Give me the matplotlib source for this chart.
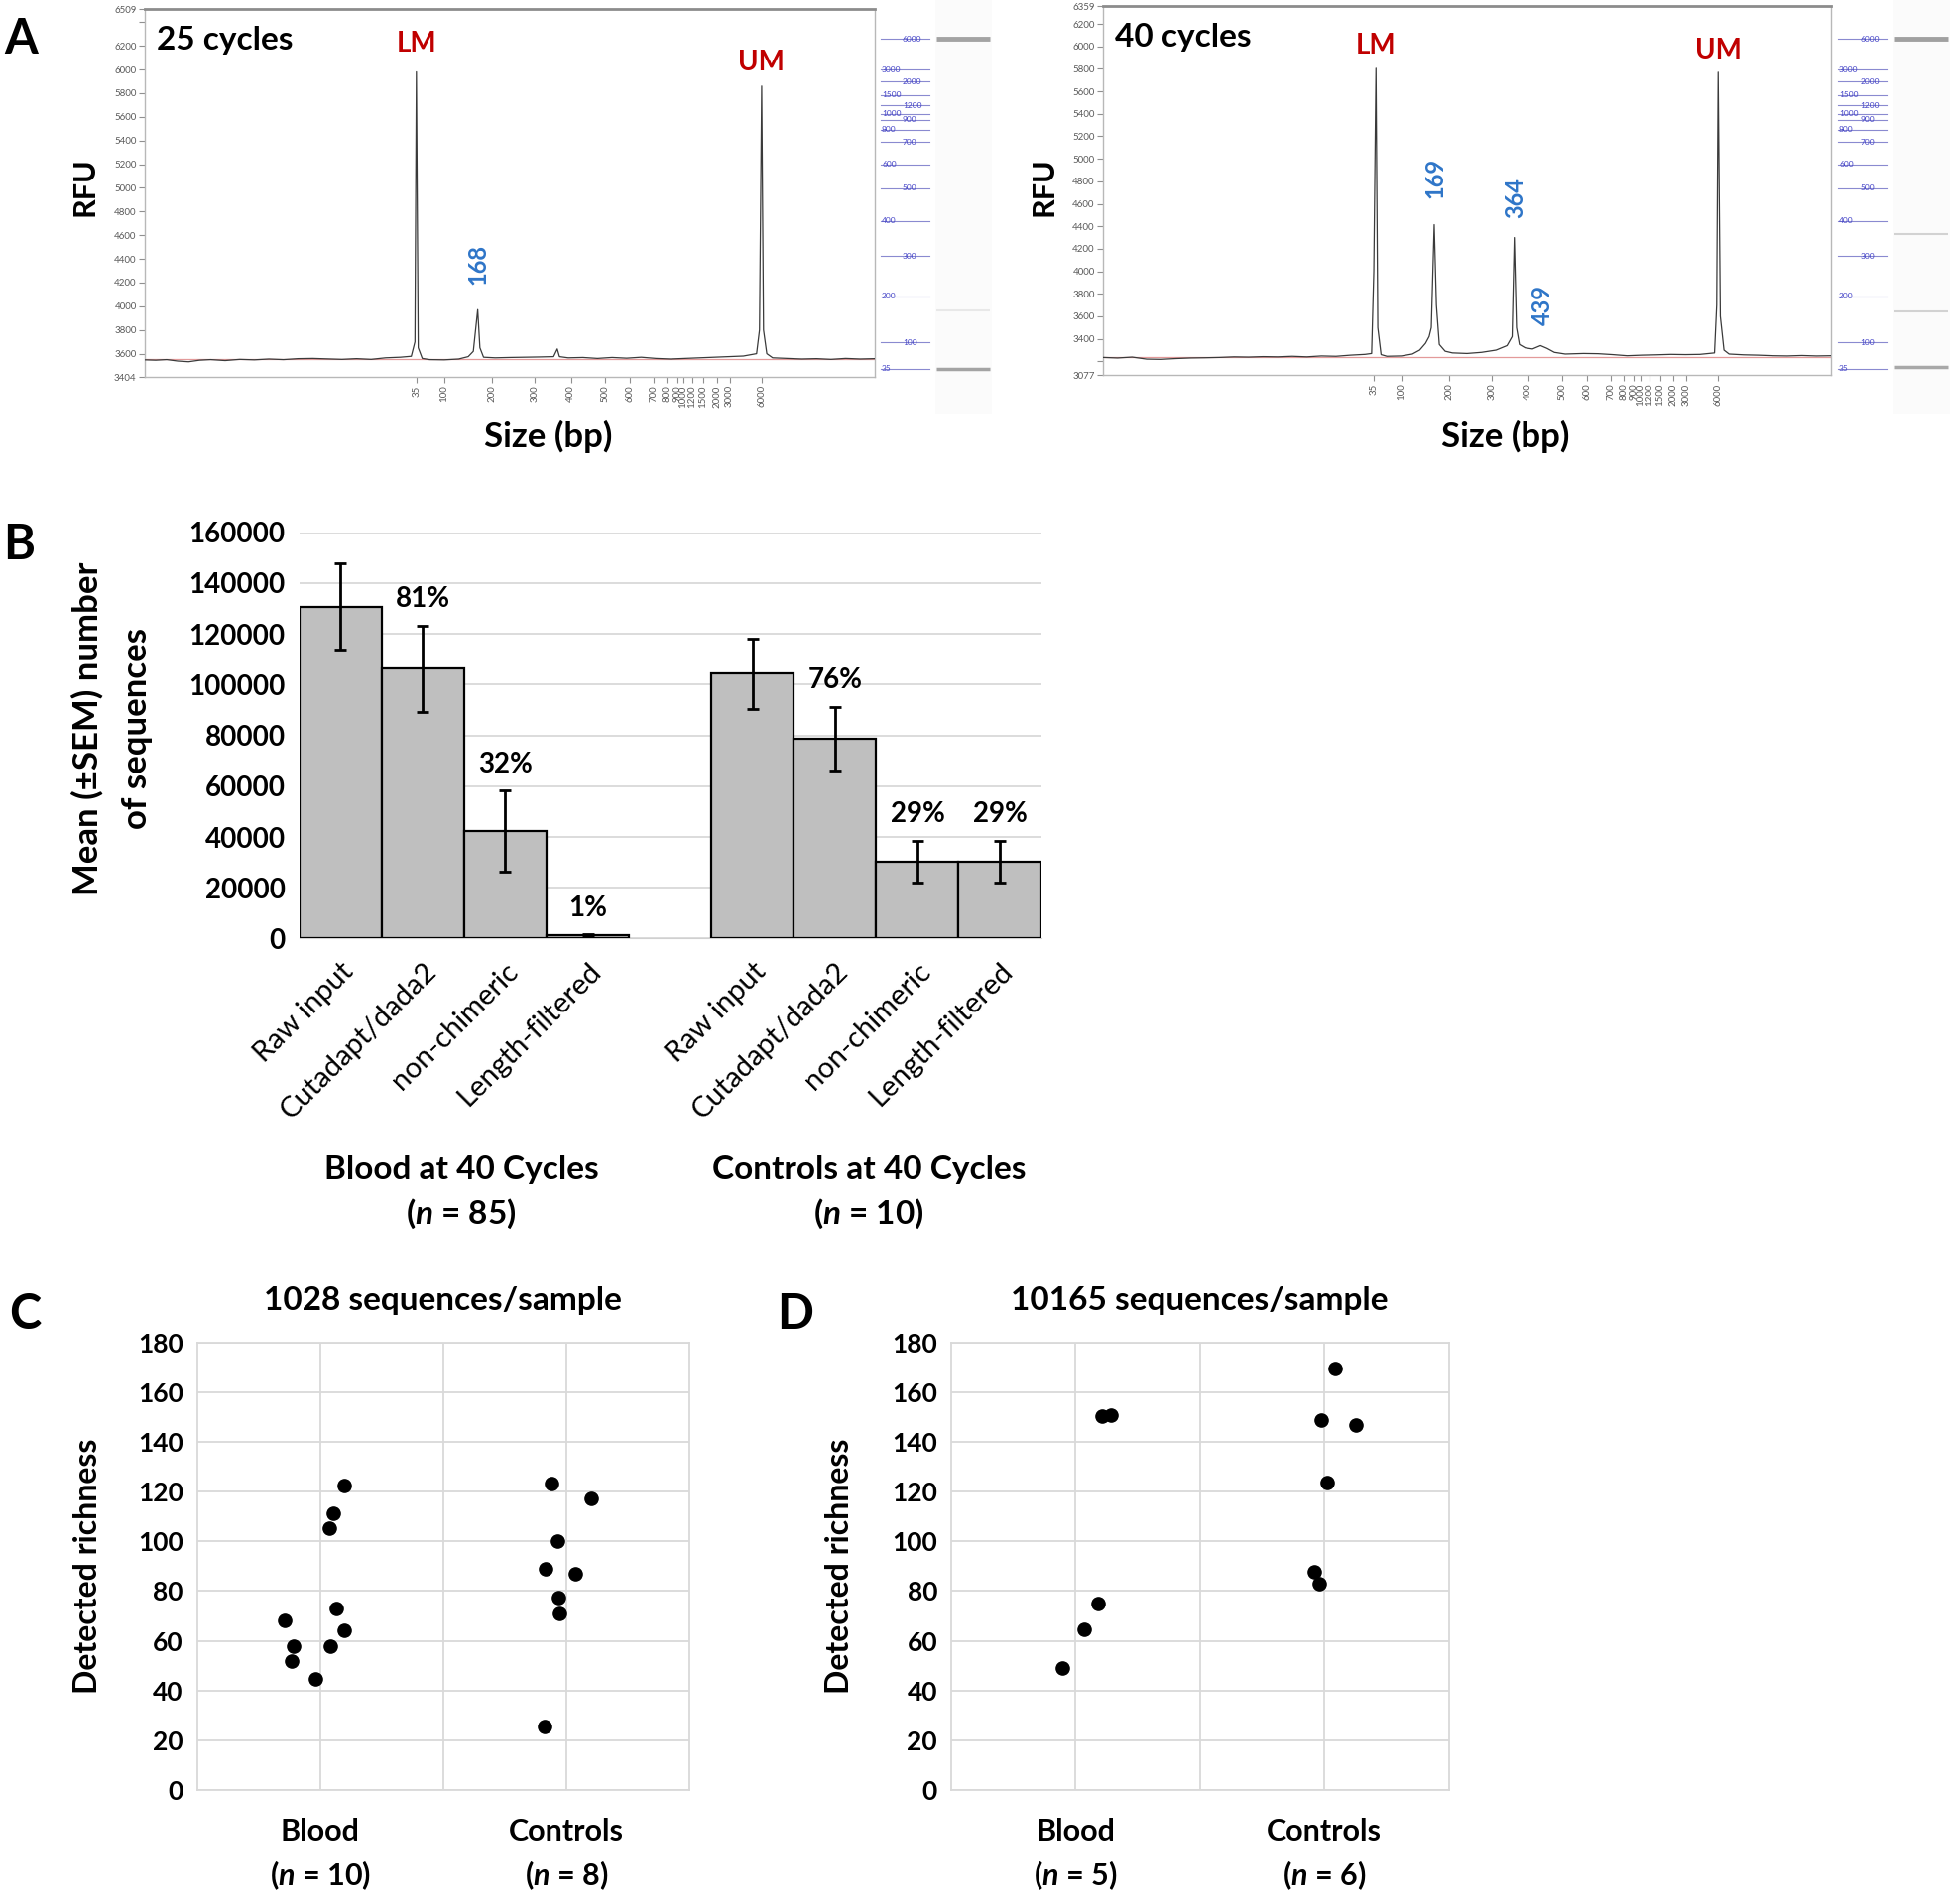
import matplotlib
matplotlib.use('Agg')
import matplotlib.pyplot as plt
from matplotlib.patches import Rectangle
import numpy as np

plt.rcParams['font.family'] = ['Lato', 'DejaVu Sans']
plt.rcParams['mathtext.fontset'] = 'custom'
plt.rcParams['mathtext.rm'] = 'Lato:bold'
plt.rcParams['mathtext.it'] = 'Lato:italic:bold'
plt.rcParams['mathtext.bf'] = 'Lato:bold'

# ---------------- data ----------------
# size ladder (bp) and its migration position (arbitrary time units, 0-100)
ladder_bp = [35, 100, 200, 300, 400, 500, 600, 700, 800, 900, 1000, 1200, 1500, 2000, 3000, 6000]
ladder_mig = [37.2, 41.0, 47.6, 53.4, 58.4, 63.1, 66.5, 69.7, 71.5, 72.9, 73.8, 75.0, 76.5, 78.4, 80.1, 84.5]

# 25-cycle electropherogram trace (migration, RFU)
trace25_mig = [0, 1.5, 3, 4.5, 6, 7.5, 9, 11, 13, 15, 17, 19, 21, 23, 25, 27, 29, 31, 33, 35, 36.5,
               37.0, 37.2, 37.45, 38, 39, 41, 43, 44.3, 45.0, 45.6, 45.9, 46.4, 48, 50, 52, 54, 56,
               56.5, 56.8, 58, 60, 62, 64, 66, 68, 70, 72, 74, 76, 78, 80, 82, 83.8, 84.2, 84.5,
               84.75, 85.2, 86, 88, 90, 92, 94, 96, 98, 100]
trace25_rfu = [3548, 3545, 3550, 3538, 3532, 3545, 3550, 3542, 3552, 3548, 3555, 3550, 3558, 3560, 3556,
               3552, 3558, 3552, 3565, 3570, 3578, 3700, 5980, 3650, 3560, 3550, 3548, 3555, 3575, 3620,
               3972, 3650, 3570, 3565, 3568, 3570, 3572, 3575, 3640, 3575, 3565, 3568, 3560, 3568, 3562,
               3570, 3560, 3555, 3560, 3565, 3570, 3575, 3580, 3600, 3800, 5860, 3800, 3600, 3565, 3560,
               3555, 3558, 3552, 3560, 3555, 3558]
base25 = 3555
peaks25_mig = [37.2, 45.6, 84.5]

# 40-cycle electropherogram trace (migration, RFU)
trace40_mig = [0, 2, 4, 6, 8, 10, 12, 14, 16, 18, 20, 22, 24, 26, 28, 30, 32, 34, 36, 36.9, 37.2,
               37.5, 37.75, 38.2, 39, 41, 42.5, 43.5, 44.3, 44.8, 45.1, 45.5, 45.8, 46.2, 47, 48, 50,
               52, 54, 55.5, 56.2, 56.5, 56.8, 57.2, 58, 59, 60.1, 61, 62, 63.5, 66, 68, 70, 72, 74,
               76, 78, 80, 82, 84, 84.3, 84.5, 84.8, 85.3, 86, 88, 90, 92, 94, 96, 98, 100]
trace40_rfu = [3235, 3230, 3238, 3220, 3218, 3225, 3230, 3232, 3235, 3240, 3238, 3242, 3240, 3245, 3240,
               3248, 3245, 3255, 3262, 3270, 4000, 5805, 3500, 3260, 3245, 3248, 3265, 3300, 3360, 3420,
               3500, 4415, 3700, 3350, 3290, 3275, 3270, 3280, 3300, 3340, 3420, 4300, 3500, 3350, 3320,
               3310, 3340, 3315, 3280, 3265, 3270, 3268, 3260, 3250, 3255, 3258, 3262, 3260, 3262, 3275,
               3700, 5770, 3600, 3300, 3265, 3258, 3255, 3250, 3248, 3252, 3248, 3250]
base40 = 3240
peaks40_mig = [37.5, 45.5, 56.5, 84.5]

# Panel B: mean (+-SEM) number of sequences
steps = ['Raw input', 'Cutadapt/dada2', 'non-chimeric', 'Length-filtered']
blood_mean = [130700, 106200, 42300, 1300]
blood_sem = [17000, 17000, 15900, 300]
blood_pct = ['', '81%', '32%', '1%']
ctrl_mean = [104300, 78800, 30200, 30200]
ctrl_sem = [14000, 12500, 8200, 8200]
ctrl_pct = ['', '76%', '29%', '29%']

# Panel C: 1028 sequences/sample
c_blood_x = [0.856, 0.892, 0.886, 0.983, 1.043, 1.066, 1.098, 1.037, 1.055, 1.098]
c_blood_y = [68.3, 57.7, 51.7, 44.7, 57.7, 72.9, 64.1, 105.3, 111.2, 122.3]
c_ctrl_x = [1.939, 2.102, 1.963, 1.917, 2.036, 1.968, 1.973, 1.910]
c_ctrl_y = [123.1, 117.2, 100.1, 88.9, 87.1, 77.2, 70.9, 25.6]

# Panel D: 10165 sequences/sample
d_blood_x = [0.947, 1.033, 1.092, 1.106, 1.143]
d_blood_y = [48.9, 64.7, 74.9, 150.2, 150.8]
d_ctrl_x = [2.044, 1.987, 2.128, 2.013, 1.958, 1.980]
d_ctrl_y = [169.7, 148.7, 146.8, 123.8, 87.8, 82.8]

# ---------------- figure ----------------
FW, FH = 1971, 1920
fig = plt.figure(figsize=(FW / 100, FH / 100), dpi=100)


def rect(l, t, r, b):
    return [l / FW, 1 - b / FH, (r - l) / FW, (b - t) / FH]


def ftext(x, y, s, **kw):
    return fig.text(x / FW, 1 - y / FH, s, **kw)


def electro(r, mig, rfu, ylim, yticks, ylabels, base):
    ax = fig.add_axes(r)
    ax.plot(mig, rfu, color='#3a3a3a', lw=0.9, zorder=3)
    ax.axhline(base, color='#e39a9a', lw=0.9, zorder=2)
    ax.set_xlim(0, 100)
    ax.set_ylim(*ylim)
    ax.set_yticks(yticks)
    ax.set_yticklabels(ylabels)
    ax.set_xticks(ladder_mig)
    ax.set_xticklabels([str(v) for v in ladder_bp], rotation=90)
    ax.tick_params(axis='both', labelsize=7, labelcolor='#5a5a5a', color='#909090',
                   length=4, width=0.8, pad=2)
    for s in ax.spines.values():
        s.set_color('#b8b8b8')
        s.set_linewidth(1)
    ax.spines['top'].set_color('#8c8c8c')
    ax.spines['top'].set_linewidth(2)
    return ax


def ladder(r, bands, band_cols, band_lws):
    ax = fig.add_axes(r)
    ax.set_xlim(0, 115)
    ax.set_ylim(30.8, 90.1)
    ax.axis('off')
    ax.add_patch(Rectangle((57.5, 30.8), 57.5, 59.3, color='#fbfbfb', lw=0))
    for i, (bp, m) in enumerate(zip(ladder_bp, ladder_mig)):
        ax.plot([3, 52], [m, m], color='#8a8ad0', lw=0.8)
        tx = 25 if i % 2 == 1 else 4
        ax.text(tx, m, str(bp), fontsize=6, color='#4646c8', va='center', ha='left')
    for m, c, w in zip(bands, band_cols, band_lws):
        ax.plot([59, 113], [m, m], color=c, lw=w, solid_capstyle='butt')
    return ax


# ---- Panel A left (25 cycles)
yt25 = [3404] + list(range(3600, 6401, 200)) + [6509]
yl25 = [str(v) for v in yt25]
yl25[-2] = ''
axA1 = electro(rect(146, 9.3, 882, 380), trace25_mig, trace25_rfu, (3404, 6509), yt25, yl25, base25)
axA1.text(1.6, 6244, '25 cycles', fontsize=24, fontweight='bold', va='center', ha='left')
axA1.text(peaks25_mig[0], 6216, 'LM', fontsize=20, fontweight='bold', color='#c00000', ha='center', va='center')
axA1.text(peaks25_mig[2], 6062, 'UM', fontsize=20, fontweight='bold', color='#c00000', ha='center', va='center')
axA1.text(peaks25_mig[1], 4352, '168', fontsize=17, fontweight='bold', color='#2e75c8', rotation=90,
          ha='center', va='center')
ladder(rect(885, 0, 1000, 417), peaks25_mig, ['#a3a3a3', '#e8e8e8', '#a3a3a3'], [2.5, 1.5, 3.5])

# ---- Panel A right (40 cycles)
yt40 = [3077, 3200] + list(range(3400, 6201, 200)) + [6359]
yl40 = [str(v) for v in yt40]
yl40[1] = ''
axA2 = electro(rect(1112, 6, 1846, 378.3), trace40_mig, trace40_rfu, (3077, 6359), yt40, yl40, base40)
axA2.text(1.6, 6083, '40 cycles', fontsize=24, fontweight='bold', va='center', ha='left')
axA2.text(peaks40_mig[0], 6009, 'LM', fontsize=20, fontweight='bold', color='#c00000', ha='center', va='center')
axA2.text(peaks40_mig[3], 5965, 'UM', fontsize=20, fontweight='bold', color='#c00000', ha='center', va='center')
axA2.text(45.6, 4826, '169', fontsize=17, fontweight='bold', color='#2e75c8', rotation=90, ha='center', va='center')
axA2.text(56.7, 4649, '364', fontsize=17, fontweight='bold', color='#2e75c8', rotation=90, ha='center', va='center')
axA2.text(60.4, 3702, '439', fontsize=17, fontweight='bold', color='#2e75c8', rotation=90, ha='center', va='center')
ladder(rect(1850, 0, 1966, 417), peaks40_mig, ['#a8a8a8', '#d2d2d2', '#d2d2d2', '#a0a0a0'], [2.5, 1.5, 1.5, 3.5])

for x in (85.5, 1053):
    ftext(x, 188.5, 'RFU', fontsize=22, fontweight='bold', rotation=90, ha='center', va='center')
for x in (553, 1518):
    ftext(x, 440, 'Size (bp)', fontsize=25, fontweight='bold', ha='center', va='center')

# ---- Panel B
axB = fig.add_axes(rect(301.7, 536.7, 1049.6, 946.5))
xb = np.arange(len(steps))
xc = xb + len(steps) + 1
for xs, means, sems, pcts in ((xb, blood_mean, blood_sem, blood_pct), (xc, ctrl_mean, ctrl_sem, ctrl_pct)):
    axB.bar(xs, means, width=1.0, color='#bfbfbf', edgecolor='black', linewidth=1.6,
            yerr=sems, capsize=4, error_kw=dict(elinewidth=2, capthick=2, ecolor='black'), zorder=3)
    for x, m, s, p in zip(xs, means, sems, pcts):
        if p:
            axB.text(x, m + s + 10500, p, ha='center', va='center', fontsize=20, fontweight='bold')
axB.set_xlim(-0.5, 8.5)
axB.set_ylim(0, 160000)
axB.set_yticks(np.arange(0, 160001, 20000))
axB.yaxis.grid(True, color='#d9d9d9', lw=1.3)
axB.set_axisbelow(True)
for s in ('left', 'top', 'right'):
    axB.spines[s].set_visible(False)
axB.spines['bottom'].set_color('#d0d0d0')
axB.tick_params(axis='y', length=0, pad=10, labelsize=20)
for t in axB.get_yticklabels():
    t.set_fontweight('bold')
axB.set_xticks(list(xb) + list(xc))
axB.set_xticklabels(steps + steps, rotation=45, ha='right', rotation_mode='anchor', fontsize=21)
axB.tick_params(axis='x', length=0, pad=14)
ftext(88, 735, 'Mean (\u00b1SEM) number', fontsize=25, fontweight='bold', rotation=90, ha='center', va='center')
ftext(138, 735, 'of sequences', fontsize=25, fontweight='bold', rotation=90, ha='center', va='center')
ftext(465, 1203, 'Blood at 40 Cycles\n($\\mathit{n}$ = 85)', fontsize=24, fontweight='bold',
      ha='center', va='center', linespacing=1.5)
ftext(876, 1203, 'Controls at 40 Cycles\n($\\mathit{n}$ = 10)', fontsize=24, fontweight='bold',
      ha='center', va='center', linespacing=1.5)


# ---- Panels C and D
def richness(r, bx, by, cx, cy, title, labels, title_x, ylab_x):
    ax = fig.add_axes(r)
    ax.plot(bx, by, 'o', color='black', ms=9.5, zorder=3)
    ax.plot(cx, cy, 'o', color='black', ms=9.5, zorder=3)
    ax.set_xlim(0.5, 2.5)
    ax.set_ylim(0, 180)
    ax.set_yticks(np.arange(0, 181, 20))
    ax.set_xticks([1, 1.5, 2])
    ax.set_xticklabels([labels[0], '', labels[1]], linespacing=1.5)
    ax.grid(True, color='#d9d9d9', lw=1.3)
    ax.set_axisbelow(True)
    for s in ax.spines.values():
        s.set_color('#d9d9d9')
        s.set_linewidth(1.3)
    ax.tick_params(axis='both', length=0)
    ax.tick_params(axis='y', labelsize=19, pad=10)
    ax.tick_params(axis='x', labelsize=22, pad=20)
    for t in ax.get_yticklabels() + ax.get_xticklabels():
        t.set_fontweight('bold')
    ftext(title_x, 1311, title, fontsize=24, fontweight='bold', ha='center', va='center')
    ftext(ylab_x, 1579, 'Detected richness', fontsize=23, fontweight='bold', rotation=90,
          ha='center', va='center')
    return ax


richness(rect(198.6, 1353.8, 695, 1805), c_blood_x, c_blood_y, c_ctrl_x, c_ctrl_y,
         '1028 sequences/sample', ['Blood\n($\\mathit{n}$ = 10)', 'Controls\n($\\mathit{n}$ = 8)'], 446, 88)
richness(rect(959, 1353.8, 1460.6, 1805), d_blood_x, d_blood_y, d_ctrl_x, d_ctrl_y,
         '10165 sequences/sample', ['Blood\n($\\mathit{n}$ = 5)', 'Controls\n($\\mathit{n}$ = 6)'], 1209, 846)

# panel letters
for s, x, y in (('A', 21, 40), ('B', 19, 549), ('C', 25, 1326), ('D', 802, 1326)):
    ftext(x, y, s, fontsize=35, fontweight='bold', ha='center', va='center')

fig.savefig('out.png', dpi=100, facecolor='white')
